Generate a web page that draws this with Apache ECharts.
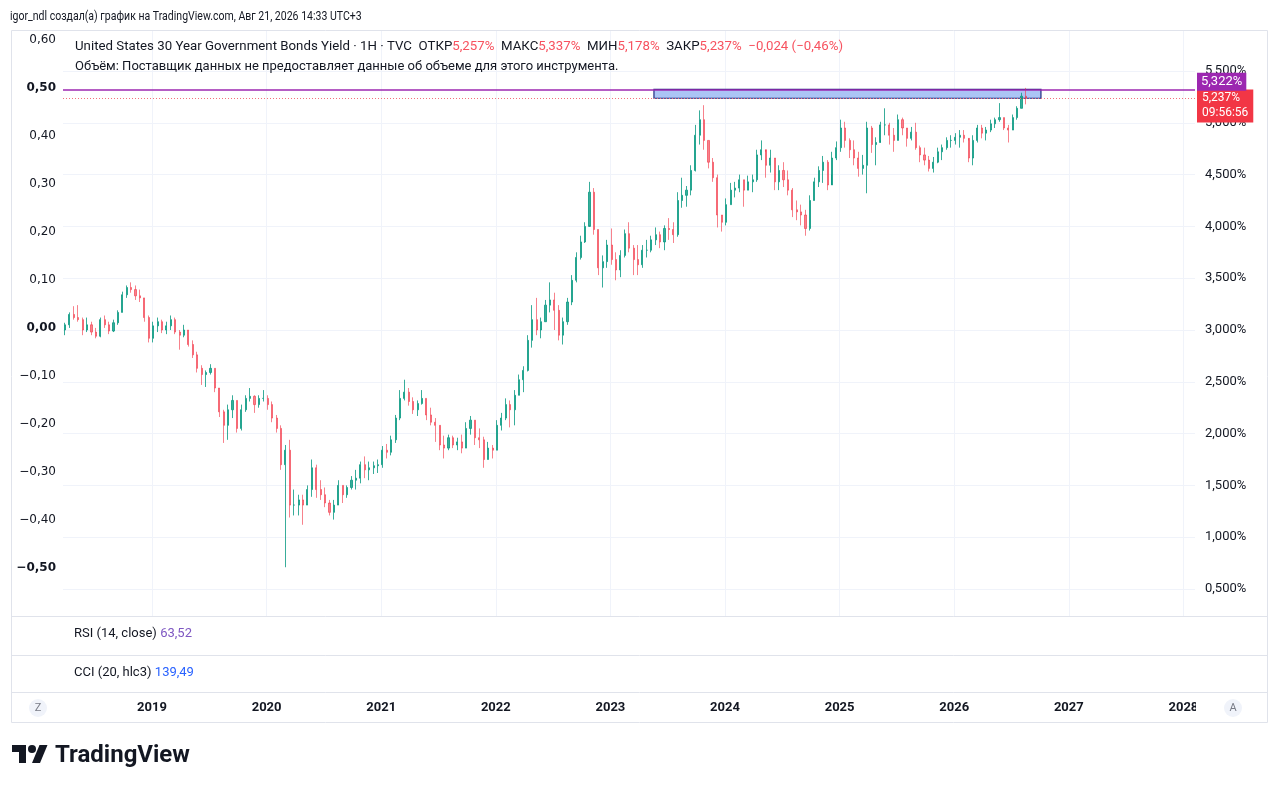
<!DOCTYPE html>
<html><head><meta charset="utf-8">
<script src="https://cdn.jsdelivr.net/npm/echarts@6/dist/echarts.min.js"></script>
<style>html,body{margin:0;padding:0;background:#fff}#c{width:1280px;height:790px}</style>
</head><body><div id="c"></div>
<script>
// ---------- data (yield, %) : one candle every two weeks ----------
const startYear = 2018.241;      // decimal year of first candle
const stepYears = 1 / 26;        // two weeks
const firstOpen = 3.00;
const closes = [
3.05,3.15,3.12,3.10,3.00,3.05,2.98,2.94,3.10,3.05,
2.99,3.07,3.17,3.34,3.41,3.39,3.33,3.31,3.12,2.92,
3.04,3.08,3.00,3.04,3.10,2.98,2.95,3.00,2.86,2.76,
2.63,2.57,2.59,2.63,2.44,2.21,2.08,2.23,2.32,2.05,
2.23,2.34,2.36,2.28,2.34,2.34,2.28,2.15,2.05,1.70,
1.84,1.31,1.31,1.36,1.31,1.46,1.67,1.46,1.41,1.33,
1.24,1.31,1.50,1.41,1.48,1.55,1.57,1.70,1.65,1.67,
1.69,1.70,1.84,1.82,1.94,2.15,2.34,2.40,2.31,2.23,
2.29,2.34,2.18,2.11,2.08,1.89,1.86,1.96,1.89,1.92,
1.86,2.05,2.13,1.96,1.94,1.75,1.86,1.84,2.08,2.15,
2.28,2.23,2.37,2.52,2.61,2.90,3.10,3.00,3.08,3.24,
3.29,3.19,2.95,3.08,3.27,3.48,3.70,3.85,4.00,4.33,
3.97,3.60,3.66,3.82,3.68,3.58,3.72,3.93,3.79,3.68,
3.63,3.77,3.77,3.87,3.92,3.85,3.98,3.97,3.92,4.25,
4.30,4.35,4.54,4.88,5.03,4.83,4.62,4.47,4.11,4.04,
4.21,4.35,4.37,4.45,4.35,4.43,4.45,4.69,4.74,4.59,
4.66,4.43,4.54,4.45,4.35,4.16,4.14,4.11,3.98,4.25,
4.43,4.54,4.62,4.40,4.66,4.76,4.95,4.83,4.74,4.66,
4.56,4.59,4.95,4.79,4.81,4.98,4.98,4.88,4.83,5.03,
4.95,4.85,4.91,4.76,4.69,4.64,4.56,4.62,4.72,4.76,
4.83,4.83,4.86,4.88,4.85,4.66,4.83,4.95,4.90,4.93,
4.99,5.03,5.05,4.95,4.93,5.05,5.14,5.257,5.237
];
const highs = [
3.07,3.17,3.23,3.24,3.12,3.12,3.08,3.02,3.12,3.14,
3.08,3.10,3.19,3.37,3.43,3.46,3.43,3.39,3.31,3.14,
3.08,3.12,3.10,3.08,3.14,3.12,3.00,3.05,3.00,2.90,
2.79,2.66,2.61,2.67,2.63,2.44,2.23,2.28,2.37,2.32,
2.28,2.37,2.44,2.37,2.37,2.42,2.37,2.31,2.18,2.08,
1.89,1.94,1.46,1.41,1.41,1.50,1.75,1.70,1.55,1.48,
1.36,1.36,1.55,1.50,1.50,1.59,1.65,1.73,1.78,1.73,
1.73,1.75,1.88,1.90,1.98,2.18,2.42,2.52,2.44,2.35,
2.32,2.42,2.34,2.25,2.15,2.08,1.98,1.99,1.98,1.96,
1.99,2.11,2.17,2.13,2.05,1.97,1.92,1.89,2.13,2.20,
2.34,2.32,2.42,2.57,2.65,2.95,3.24,3.31,3.12,3.29,
3.46,3.36,3.24,3.12,3.31,3.53,3.75,3.91,4.04,4.43,
4.37,3.97,3.72,3.87,3.98,3.75,3.77,3.97,4.04,3.82,
3.82,3.82,3.87,3.91,3.99,3.95,4.01,4.08,4.04,4.33,
4.47,4.39,4.59,4.98,5.12,5.17,4.83,4.66,4.50,4.11,
4.27,4.42,4.43,4.50,4.45,4.49,4.50,4.74,4.83,4.72,
4.74,4.66,4.59,4.62,4.54,4.37,4.25,4.21,4.16,4.30,
4.47,4.58,4.68,4.64,4.72,4.82,5.03,5.01,4.85,4.83,
4.72,4.69,5.01,4.97,4.86,5.01,5.14,5.00,4.95,5.08,
5.05,4.95,4.96,5.00,4.78,4.76,4.68,4.67,4.76,4.79,
4.86,4.88,4.90,4.93,4.93,4.83,4.88,4.98,4.98,4.96,
5.03,5.05,5.19,5.05,4.98,5.08,5.16,5.29,5.337
];
const lows = [
2.95,3.02,3.10,3.08,2.95,2.98,2.95,2.92,2.93,3.02,
2.96,2.98,3.05,3.17,3.31,3.36,3.29,3.27,3.08,2.88,
2.88,2.98,2.97,2.96,3.00,2.96,2.81,2.93,2.84,2.73,
2.59,2.47,2.45,2.57,2.40,2.16,1.91,1.94,2.15,2.01,
2.03,2.21,2.31,2.20,2.25,2.31,2.23,2.11,2.01,1.65,
0.71,1.19,1.21,1.21,1.12,1.31,1.39,1.38,1.36,1.29,
1.21,1.17,1.31,1.33,1.38,1.46,1.46,1.52,1.57,1.55,
1.61,1.62,1.67,1.76,1.79,1.91,2.13,2.32,2.27,2.19,
2.17,2.28,2.13,2.08,1.92,1.84,1.76,1.84,1.86,1.84,
1.81,1.86,1.99,1.89,1.86,1.67,1.75,1.76,1.84,2.03,
2.13,2.06,2.08,2.37,2.40,2.60,2.83,2.95,2.92,3.08,
3.17,3.00,2.90,2.86,3.05,3.24,3.46,3.68,3.84,4.01,
3.92,3.53,3.41,3.60,3.63,3.48,3.51,3.70,3.75,3.53,
3.53,3.60,3.70,3.75,3.82,3.79,3.77,3.87,3.84,3.90,
4.18,4.19,4.30,4.53,4.79,4.74,4.56,4.43,3.99,3.95,
4.01,4.21,4.28,4.33,4.19,4.35,4.33,4.43,4.64,4.47,
4.52,4.35,4.35,4.38,4.30,4.09,4.06,4.01,3.91,3.96,
4.25,4.38,4.42,4.35,4.50,4.64,4.72,4.76,4.66,4.59,
4.48,4.50,4.32,4.71,4.59,4.83,4.88,4.79,4.72,4.83,
4.88,4.77,4.83,4.74,4.62,4.59,4.53,4.52,4.61,4.64,
4.74,4.76,4.79,4.76,4.81,4.62,4.59,4.81,4.85,4.83,
4.91,4.95,5.01,4.93,4.81,4.93,5.03,5.14,5.178
];
const yearTicks = [2019,2020,2021,2022,2023,2024,2025,2026,2027,2028];
const yieldTicks = [0.5,1.0,1.5,2.0,2.5,3.0,3.5,4.0,4.5,5.0,5.5];
const leftBoldTicks = [0.5, 0, -0.5];
const levelLine = 5.322;
const zoneFrom = 2023.38, zoneTo = 2026.757, zoneTop = 5.322, zoneBottom = 5.237;
const change = -0.024, changePct = -0.46;
const countdown = '09:56:56';
const rsiValue = 63.52, cciValue = 139.49;
const headerText = 'igor_ndl создал(а) график на TradingView.com, Авг 21, 2026 14:33 UTC+3';
const symbolText = 'United States 30 Year Government Bonds Yield · 1H · TVC';
const volumeText = 'Объём: Поставщик данных не предоставляет данные об объеме для этого инструмента.';

// ---------- build ----------
const FONT = 'Roboto, "Noto Sans", sans-serif';
const WIDE = '"DejaVu Sans", Roboto, sans-serif';
const fmt = (v, d) => v.toFixed(d).replace('.', ',').replace('-', '−');
const opens = [firstOpen].concat(closes.slice(0, -1));
const candleData = closes.map((c, i) => [startYear + i * stepYears, opens[i], c, lows[i], highs[i]]);
const n = closes.length - 1;
const lastO = opens[n], lastH = highs[n], lastL = lows[n], lastC = closes[n];

const chart = echarts.init(document.getElementById('c'));
const red = '#f23645', purple = '#9c27b0', ink = '#131722';
const upCol = 'rgba(8,153,129,0.8)', downCol = 'rgba(242,54,69,0.62)';

chart.setOption({
  animation: false,
  backgroundColor: '#ffffff',
  grid: { left: 63, top: 30, width: 1132, height: 586 },
  xAxis: {
    type: 'value', min: 2018.2234, max: 2028.1012,
    axisLine: { show: false },
    axisTick: { show: false, customValues: yearTicks },
    axisLabel: { customValues: yearTicks, margin: 85, color: ink, fontWeight: 'bold', fontSize: 13, fontFamily: FONT, formatter: v => String(Math.round(v)) },
    splitLine: { show: true, lineStyle: { color: '#f0f3fa', width: 1 } }
  },
  yAxis: [
    {
      type: 'value', position: 'right', min: 0.2394, max: 5.8958,
      axisLine: { show: false },
      axisTick: { show: false, customValues: yieldTicks },
      axisLabel: { customValues: yieldTicks, margin: 10, color: ink, fontSize: 13, fontFamily: FONT, formatter: v => fmt(v, 3) + '%' },
      splitLine: { show: true, lineStyle: { color: '#f0f3fa', width: 1 } }
    },
    {
      type: 'value', position: 'left', min: -0.6, max: 0.6209, interval: 0.1,
      axisLine: { show: false }, axisTick: { show: false }, splitLine: { show: false },
      axisLabel: {
        showMinLabel: false, showMaxLabel: false, margin: 7, color: ink, fontSize: 12, fontFamily: WIDE,
        formatter: v => {
          const r = Math.round(v * 100) / 100;
          const s = fmt(r, 2);
          return leftBoldTicks.some(b => Math.abs(b - r) < 1e-6) ? '{b|' + s + '}' : s;
        },
        rich: { b: { fontWeight: 'bold', fontSize: 12, color: ink, fontFamily: WIDE } }
      }
    }
  ],
  series: [{
    type: 'candlestick', xAxisIndex: 0, yAxisIndex: 0,
    data: candleData, encode: { x: 0, y: [1, 2, 3, 4] },
    barWidth: 1.6,
    itemStyle: { color: upCol, color0: downCol, borderColor: upCol, borderColor0: downCol, borderWidth: 1 },
    markArea: {
      silent: true,
      itemStyle: { color: '#abc4f5', opacity: 1, borderColor: '#1f2a80', borderWidth: 1.2 },
      data: [[{ coord: [zoneFrom, zoneTop] }, { coord: [zoneTo, zoneBottom] }]]
    },
    markLine: {
      silent: true, symbol: ['none', 'none'], animation: false,
      data: [
        { yAxis: lastC, lineStyle: { color: '#f4717b', width: 1, type: [1, 2], opacity: 1 },
          label: { show: true, position: 'end', distance: 2, formatter: fmt(lastC, 3) + '%\n' + countdown, backgroundColor: red, color: '#fff', fontSize: 12, fontFamily: FONT, lineHeight: 15, padding: [2, 5, 1, 5], offset: [0, 8] } },
        { yAxis: levelLine, lineStyle: { color: purple, width: 1.5, type: 'solid', opacity: 1 },
          label: { show: true, position: 'end', distance: 2, formatter: fmt(levelLine, 3) + '%', backgroundColor: purple, color: '#fff', fontSize: 13, fontFamily: FONT, lineHeight: 15, padding: [2, 4, 1, 4], offset: [0, -8] } }
      ]
    }
  }],
  graphic: [
    { type: 'rect', z: 1, silent: true, shape: { x: 11.5, y: 30.5, width: 1256, height: 692 }, style: { fill: 'none', stroke: '#e0e3eb', lineWidth: 1 } },
    { type: 'line', z: 1, silent: true, shape: { x1: 11, y1: 616.5, x2: 1268, y2: 616.5 }, style: { stroke: '#e0e3eb', lineWidth: 1 } },
    { type: 'line', z: 1, silent: true, shape: { x1: 11, y1: 655.5, x2: 1268, y2: 655.5 }, style: { stroke: '#e0e3eb', lineWidth: 1 } },
    { type: 'line', z: 1, silent: true, shape: { x1: 11, y1: 692.5, x2: 1268, y2: 692.5 }, style: { stroke: '#e0e3eb', lineWidth: 1 } },
    { type: 'rect', z: 50, silent: true, shape: { x: 1196, y: 694, width: 71, height: 27 }, style: { fill: '#ffffff' } },
    { type: 'circle', z: 51, silent: true, shape: { cx: 38, cy: 708, r: 9 }, style: { fill: '#f0f3fa' } },
    { type: 'text', z: 52, silent: true, style: { x: 38, y: 708, text: 'Z', fill: '#787b86', font: '11px ' + FONT, align: 'center', verticalAlign: 'middle' } },
    { type: 'circle', z: 51, silent: true, shape: { cx: 1233, cy: 708, r: 9 }, style: { fill: '#f0f3fa' } },
    { type: 'text', z: 52, silent: true, style: { x: 1233, y: 708, text: 'A', fill: '#787b86', font: '11px ' + FONT, align: 'center', verticalAlign: 'middle' } },
    { type: 'text', z: 52, silent: true, x: 10, y: 17, scaleX: 0.81, style: { x: 0, y: 0, text: headerText, fill: ink, font: '13px ' + FONT, verticalAlign: 'middle' } },
    { type: 'text', z: 52, silent: true, x: 75, y: 47, scaleX: 1.02, style: {
        x: 0, y: 0, verticalAlign: 'middle',
        text: '{t|' + symbolText + '}  {t|ОТКР}{v|' + fmt(lastO, 3) + '%}  {t|МАКС}{v|' + fmt(lastH, 3) + '%}  {t|МИН}{v|' + fmt(lastL, 3) + '%}  {t|ЗАКР}{v|' + fmt(lastC, 3) + '%}  {v|' + fmt(change, 3) + ' (' + fmt(changePct, 2) + '%)}',
        font: '13px ' + FONT, fill: ink,
        rich: { t: { fill: ink, font: '13px ' + FONT }, v: { fill: '#f7525f', font: '13px ' + FONT } }
      } },
    { type: 'text', z: 52, silent: true, style: { x: 75, y: 67, text: volumeText, fill: ink, font: '13px ' + FONT, verticalAlign: 'middle' } },
    { type: 'text', z: 52, silent: true, style: {
        x: 74, y: 634, verticalAlign: 'middle', text: '{t|RSI (14, close)} {v|' + fmt(rsiValue, 2) + '}',
        rich: { t: { fill: ink, font: '13px ' + FONT }, v: { fill: '#7e57c2', font: '13px ' + FONT } } } },
    { type: 'text', z: 52, silent: true, style: {
        x: 74, y: 673, verticalAlign: 'middle', text: '{t|CCI (20, hlc3)} {v|' + fmt(cciValue, 2) + '}',
        rich: { t: { fill: ink, font: '13px ' + FONT }, v: { fill: '#2962ff', font: '13px ' + FONT } } } },
    { type: 'polygon', z: 52, silent: true, x: 12, y: 741, shape: { points: [[14, 22], [7, 22], [7, 11], [0, 11], [0, 4], [14, 4]] }, style: { fill: ink } },
    { type: 'polygon', z: 52, silent: true, x: 12, y: 741, shape: { points: [[28, 22], [20, 22], [27.5, 4], [35.5, 4]] }, style: { fill: ink } },
    { type: 'circle', z: 52, silent: true, shape: { cx: 32, cy: 749, r: 4 }, style: { fill: ink } },
    { type: 'text', z: 52, silent: true, style: { x: 55, y: 756, text: 'TradingView', fill: ink, font: 'bold 24px ' + FONT, verticalAlign: 'middle' } }
  ]
});
</script>
</body></html>
